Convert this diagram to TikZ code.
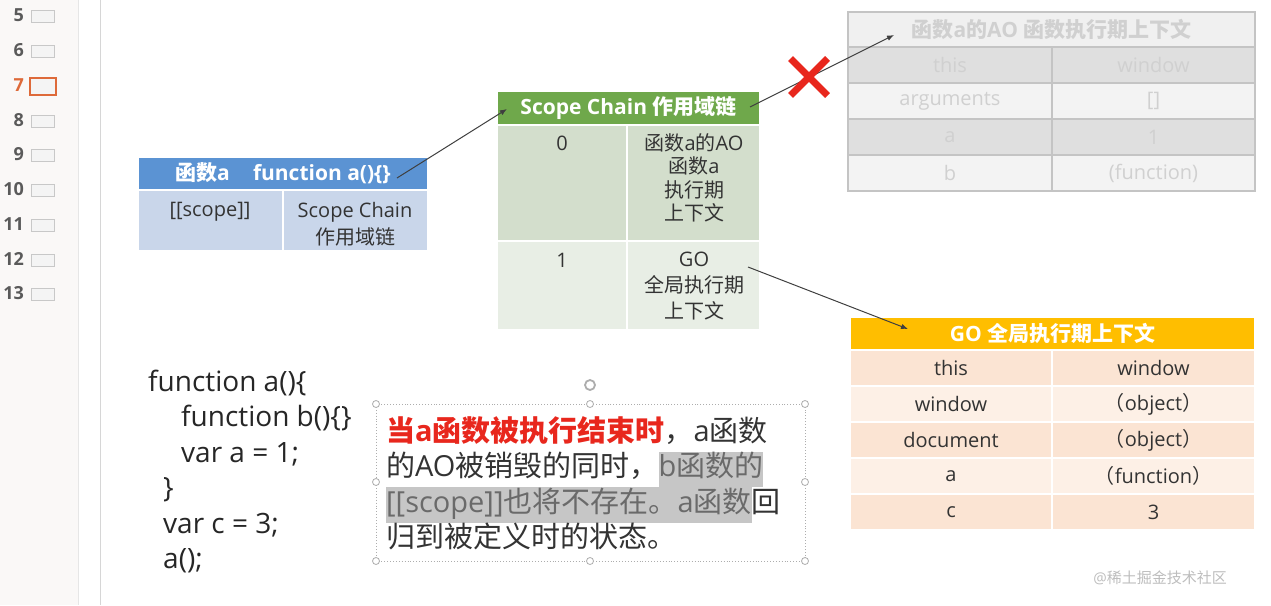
\documentclass[tikz,border=0pt]{standalone}
\usepackage{fontspec}
\setmainfont{Open Sans}
\newfontfamily\cjkfont{Noto Sans CJK SC}
\usepackage{tikz}
\usetikzlibrary{arrows.meta, positioning, shapes.misc}

% CJK characters are set in the CJK font
\XeTeXinterchartokenstate=1
\newXeTeXintercharclass\cjkclass
\newcount\cjkcount
\def\cjkrange#1#2{\cjkcount=#1 \loop\XeTeXcharclass\cjkcount=\cjkclass
  \ifnum\cjkcount<#2 \advance\cjkcount by 1 \repeat}
\cjkrange{"3000}{"303F}
\cjkrange{"4E00}{"9FFF}
\cjkrange{"FF00}{"FFEF}
\XeTeXinterchartoks 0 \cjkclass = {\begingroup\cjkfont}
\XeTeXinterchartoks 4095 \cjkclass = {\begingroup\cjkfont}
\XeTeXinterchartoks \cjkclass 0 = {\endgroup}
\XeTeXinterchartoks \cjkclass 4095 = {\endgroup}

\definecolor{headblue}{HTML}{5B93D3}
\definecolor{bodyblue}{HTML}{C9D6EA}
\definecolor{headgreen}{HTML}{6FA84B}
\definecolor{rowgreenA}{HTML}{D3DECC}
\definecolor{rowgreenB}{HTML}{E8EEE5}
\definecolor{headgo}{HTML}{FFBE00}
\definecolor{rowgoA}{HTML}{FBE4D3}
\definecolor{rowgoB}{HTML}{FDF0E6}
\definecolor{fadeline}{HTML}{C4C4C4}
\definecolor{fadehead}{HTML}{F0F0F0}
\definecolor{fadeA}{HTML}{DFDFDF}
\definecolor{fadeB}{HTML}{F3F3F3}
\definecolor{fadetext}{HTML}{D0D0D0}
\definecolor{txt}{HTML}{333333}
\definecolor{warnred}{HTML}{E8271D}
\definecolor{hlbg}{HTML}{C6C6C6}
\definecolor{hltext}{HTML}{6A6A6A}
\definecolor{handlegray}{HTML}{ADADAD}
\definecolor{arrowgray}{HTML}{3F3F3F}
\definecolor{sidebg}{HTML}{FAF8F7}
\definecolor{sideline}{HTML}{E6E6E6}
\definecolor{edgeline}{HTML}{D6D6D6}
\definecolor{numgray}{HTML}{5A5A5A}
\definecolor{thumbline}{HTML}{C8C8C8}
\definecolor{thumbfill}{HTML}{F4F4F4}
\definecolor{slideorange}{HTML}{DE6A3A}
\definecolor{markgray}{HTML}{BDBDBD}

\newcommand{\hl}[1]{{\setlength{\fboxsep}{0pt}\colorbox{hlbg}{\strut\color{hltext}#1}}}

\begin{document}
\begin{tikzpicture}[x=1pt, y=-1pt,
    cell/.style={anchor=north west, inner sep=0pt, outer sep=0pt, draw=white, line width=1.5pt},
    tablehead/.style={cell, text=white, font=\bfseries\fontsize{21}{25}\selectfont},
    entry/.style={inner sep=0pt, text=txt, align=center, font=\fontsize{20}{24}\selectfont},
    fadecell/.style={cell, draw=fadeline, line width=1.2pt, text=fadetext, font=\fontsize{20}{24}\selectfont},
    gorow/.style={cell, text=txt, font=\fontsize{20}{24}\selectfont},
    codeline/.style={anchor=base west, inner sep=0pt, text=black!85, font=\fontsize{28}{34}\selectfont},
    noteline/.style={anchor=base west, inner sep=0pt, text=txt, font=\fontsize{29}{35.5}\selectfont},
    handle/.style={circle, draw=handlegray, fill=white, line width=0.8pt, inner sep=0pt, minimum size=7pt},
    link/.style={draw=arrowgray, line width=1pt, -{Latex[length=7pt, width=5.5pt]}},
    slidenum/.style={anchor=east, inner sep=0pt, text=numgray, font=\bfseries\fontsize{18}{20}\selectfont},
    thumb/.style={draw=thumbline, fill=thumbfill, line width=0.8pt, minimum width=23pt, minimum height=12pt, inner sep=0pt}
]
    \useasboundingbox (0,0) rectangle (1271,605);

    % slide list
    \fill[sidebg] (0,0) rectangle (78,605);
    \draw[sideline] (78,0) -- (78,605);
    \draw[edgeline] (100,0) -- (100,605);
    \node[slidenum] (n5) at (24,15) {5};
    \node[slidenum] (n6) at (24,50) {6};
    \node[slidenum, text=slideorange] (n7) at (24,85) {7};
    \node[slidenum] (n8) at (24,120) {8};
    \node[slidenum] (n9) at (24,154) {9};
    \node[slidenum] (n10) at (24,189) {10};
    \node[slidenum] (n11) at (24,224) {11};
    \node[slidenum] (n12) at (24,259) {12};
    \node[slidenum] (n13) at (24,293) {13};
    \node[thumb] (t5) at (43,16) {};
    \node[thumb] (t6) at (43,51) {};
    \node[thumb, draw=slideorange, line width=2pt, minimum width=26pt, minimum height=17pt] (t7) at (43,86) {};
    \node[thumb] (t8) at (43,121) {};
    \node[thumb] (t9) at (43,155) {};
    \node[thumb] (t10) at (43,190) {};
    \node[thumb] (t11) at (43,225) {};
    \node[thumb] (t12) at (43,260) {};
    \node[thumb] (t13) at (43,294) {};

    % function a
    \node[tablehead, fill=headblue, minimum width=290pt, minimum height=33pt] (fa-h) at (138,157) {函数a\hspace{1.1em}function a()\{\}};
    \node[cell, fill=bodyblue, minimum width=145pt, minimum height=61pt] (fa-l) at (138,190) {};
    \node[cell, fill=bodyblue, minimum width=145pt, minimum height=61pt] (fa-r) at (283,190) {};
    \node[entry, anchor=base] (fa-lt) at (210,216) {[[scope]]};
    \node[entry, anchor=north, font=\fontsize{20}{27}\selectfont] (fa-rt) at (355,202) {Scope Chain\\作用域链};

    % scope chain
    \node[tablehead, fill=headgreen, minimum width=263pt, minimum height=34pt] (sc-h) at (497,91) {Scope Chain 作用域链};
    \node[cell, fill=rowgreenA, minimum width=130pt, minimum height=116pt] (sc-0l) at (497,125) {};
    \node[cell, fill=rowgreenA, minimum width=133pt, minimum height=116pt] (sc-0r) at (627,125) {};
    \node[cell, fill=rowgreenB, minimum width=130pt, minimum height=89pt] (sc-1l) at (497,241) {};
    \node[cell, fill=rowgreenB, minimum width=133pt, minimum height=89pt] (sc-1r) at (627,241) {};
    \node[entry, anchor=base] (sc-0k) at (562,150) {0};
    \node[entry, anchor=north, font=\fontsize{20}{23.5}\selectfont] (sc-0v) at (694,133) {函数a的AO\\函数a\\执行期\\上下文};
    \node[entry, anchor=base] (sc-1k) at (562,267) {1};
    \node[entry, anchor=north, font=\fontsize{20}{26}\selectfont] (sc-1v) at (694,252) {GO\\全局执行期\\上下文};

    % AO of a, no longer there
    \node[fadecell, fill=fadehead, minimum width=407pt, minimum height=35pt, font=\bfseries\fontsize{21}{25}\selectfont] (ao-h) at (848,12) {函数a的AO 函数执行期上下文};
    \node[fadecell, fill=fadeA, minimum width=204pt, minimum height=36pt] (ao-1l) at (848,47) {this};
    \node[fadecell, fill=fadeA, minimum width=203pt, minimum height=36pt] (ao-1r) at (1052,47) {window};
    \node[fadecell, fill=fadeB, minimum width=204pt, minimum height=36pt] (ao-2l) at (848,83) {arguments};
    \node[fadecell, fill=fadeB, minimum width=203pt, minimum height=36pt] (ao-2r) at (1052,83) {[]};
    \node[fadecell, fill=fadeA, minimum width=204pt, minimum height=36pt] (ao-3l) at (848,119) {a};
    \node[fadecell, fill=fadeA, minimum width=203pt, minimum height=36pt] (ao-3r) at (1052,119) {1};
    \node[fadecell, fill=fadeB, minimum width=204pt, minimum height=36pt] (ao-4l) at (848,155) {b};
    \node[fadecell, fill=fadeB, minimum width=203pt, minimum height=36pt] (ao-4r) at (1052,155) {(function)};

    % GO
    \node[tablehead, fill=headgo, minimum width=405pt, minimum height=33pt] (go-h) at (850,317) {GO 全局执行期上下文};
    \node[gorow, fill=rowgoA, minimum width=202pt, minimum height=36pt] (go-1l) at (850,350) {this};
    \node[gorow, fill=rowgoA, minimum width=203pt, minimum height=36pt] (go-1r) at (1052,350) {window};
    \node[gorow, fill=rowgoB, minimum width=202pt, minimum height=36pt] (go-2l) at (850,386) {window};
    \node[gorow, fill=rowgoB, minimum width=203pt, minimum height=36pt] (go-2r) at (1052,386) {（object）};
    \node[gorow, fill=rowgoA, minimum width=202pt, minimum height=36pt] (go-3l) at (850,422) {document};
    \node[gorow, fill=rowgoA, minimum width=203pt, minimum height=36pt] (go-3r) at (1052,422) {（object）};
    \node[gorow, fill=rowgoB, minimum width=202pt, minimum height=36pt] (go-4l) at (850,458) {a};
    \node[gorow, fill=rowgoB, minimum width=203pt, minimum height=36pt] (go-4r) at (1052,458) {（function）};
    \node[gorow, fill=rowgoA, minimum width=202pt, minimum height=36pt] (go-5l) at (850,494) {c};
    \node[gorow, fill=rowgoA, minimum width=203pt, minimum height=36pt] (go-5r) at (1052,494) {3};

    % arrows
    \coordinate (fa-out) at (397,178);
    \coordinate (sc-in) at (507,109);
    \coordinate (sc-out) at (750,107);
    \coordinate (ao-in) at (894,35);
    \coordinate (go-src) at (748,267);
    \coordinate (go-in) at (908,329);
    \draw[link] (fa-out) -- (sc-in);
    \draw[link] (sc-out) -- (ao-in);
    \draw[link] (go-src) -- (go-in);
    \node[cross out, draw=warnred, line width=7pt, minimum size=30pt, inner sep=0pt] (nolink) at (809,77) {};

    % code
    \node[codeline] (c1) at (148,391) {function a()\{};
    \node[codeline] (c2) at (181,426.5) {function b()\{\}};
    \node[codeline] (c3) at (181,462) {var a = 1;};
    \node[codeline] (c4) at (163,497.5) {\}};
    \node[codeline] (c5) at (163,533) {var c = 3;};
    \node[codeline] (c6) at (163,568) {a();};

    % selected text box
    \draw[handlegray, dotted, line width=0.9pt] (376,404) rectangle (805,561);
    \node[handle] (h1) at (376,404) {};
    \node[handle] (h2) at (590,404) {};
    \node[handle] (h3) at (805,404) {};
    \node[handle] (h4) at (376,482) {};
    \node[handle] (h5) at (805,482) {};
    \node[handle] (h6) at (376,561) {};
    \node[handle] (h7) at (590,561) {};
    \node[handle] (h8) at (805,561) {};
    \node[circle, draw=handlegray, line width=1.8pt, inner sep=0pt, minimum size=10pt] (rot) at (590,385) {};
    \node[noteline] (l1) at (386,441) {{\bfseries\color{warnred}当a函数被执行结束时}，a函数};
    \node[noteline] (l2) at (386,476.5) {的AO被销毁的同时，\hl{b函数的}};
    \node[noteline] (l3) at (386,512) {\hl{[[scope]]也将不存在。a函数}回};
    \node[noteline] (l4) at (386,547.5) {归到被定义时的状态。};

    % watermark
    \node[inner sep=0pt, text=markgray, font=\fontsize{15}{18}\selectfont] (mark) at (1160,578) {@稀土掘金技术社区};
\end{tikzpicture}
\end{document}
